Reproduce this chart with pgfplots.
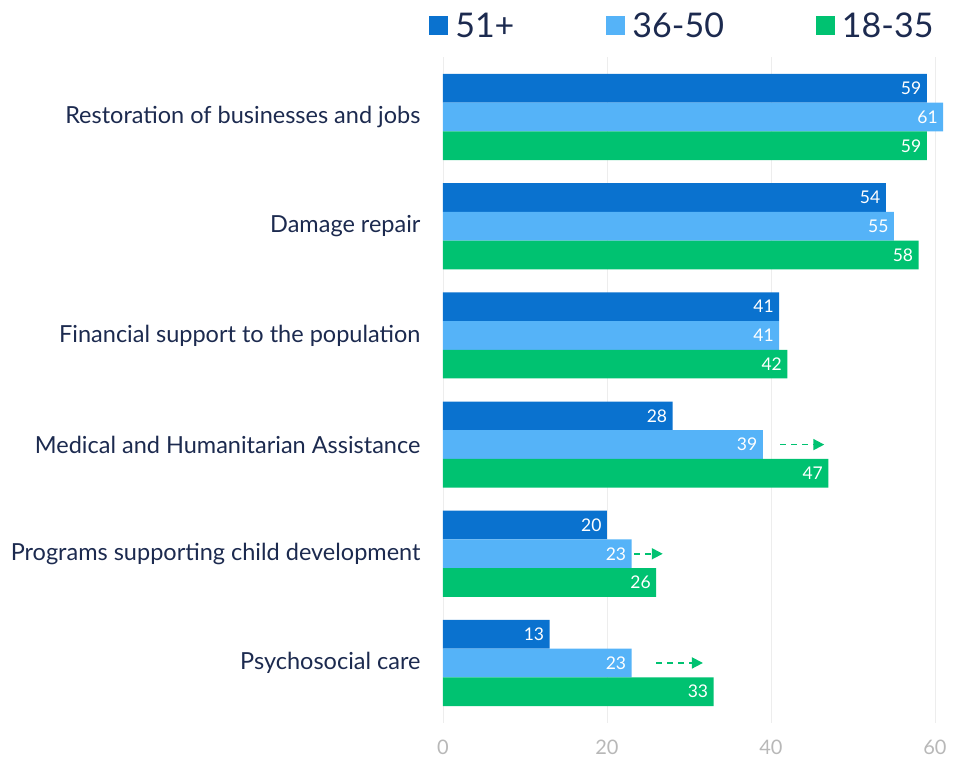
\documentclass[border=0pt]{standalone}
\usepackage{fontspec}
\setmainfont{Lato}
\usepackage{pgfplots}
\pgfplotsset{compat=1.18}
\usetikzlibrary{arrows.meta}
\definecolor{cDark}{HTML}{0A72CF}
\definecolor{cLight}{HTML}{55B3F8}
\definecolor{cGreen}{HTML}{00C271}
\definecolor{navy}{HTML}{1C2A4F}
\definecolor{tickgray}{HTML}{B8B8B8}
\definecolor{gridc}{HTML}{EDEDED}
\begin{document}
\begin{tikzpicture}
\begin{axis}[
  name=ax, scale only axis, width=508.4pt, height=666pt,
  xmin=0, xmax=62, ymin=-0.55, ymax=5.55, y dir=reverse,
  axis line style={draw=none}, major tick length=0pt,
  xtick={0,20,40,60}, xmajorgrids, grid style={gridc, line width=0.8pt},
  ytick={0,1,2,3,4,5},
  yticklabels={Restoration of businesses and jobs, Damage repair, Financial support to the population, Medical and Humanitarian Assistance, Programs supporting child development, Psychosocial care},
  yticklabel style={font=\fontsize{23.5}{27}\selectfont, text=navy, xshift=-19pt},
  xticklabel style={font=\fontsize{20}{24}\selectfont, text=tickgray, yshift=-13pt},
  /pgf/number format/assume math mode=true,
  legend columns=3,
  legend style={draw=none, fill=none, at={(0.975,1)}, anchor=south east, yshift=14pt,
    font=\fontsize{34}{38}\selectfont, text=navy,
    /tikz/every odd column/.append style={column sep=5pt},
    /tikz/every even column/.append style={column sep=90pt}},
  legend cell align=left,
  point meta=x,
  every node near coord/.append style={anchor=east, xshift=-2pt, text=white, font=\fontsize{17.5}{20}\selectfont},
]
\addplot[xbar, bar width=28.7pt, bar shift=0pt, fill=cDark, draw=none, nodes near coords,
  legend image code/.code={\fill[cDark] (0pt,-9.5pt) rectangle (19pt,9.5pt);}]
  coordinates {(59,-0.263) (54,0.737) (41,1.737) (28,2.737) (20,3.737) (13,4.737)};
\addlegendentry{51+}
\addplot[xbar, bar width=28.7pt, bar shift=0pt, fill=cLight, draw=none, nodes near coords,
  legend image code/.code={\fill[cLight] (0pt,-9.5pt) rectangle (19pt,9.5pt);}]
  coordinates {(61,0) (55,1) (41,2) (39,3) (23,4) (23,5)};
\addlegendentry{36-50}
\addplot[xbar, bar width=28.7pt, bar shift=0pt, fill=cGreen, draw=none, nodes near coords,
  legend image code/.code={\fill[cGreen] (0pt,-9.5pt) rectangle (19pt,9.5pt);}]
  coordinates {(59,0.263) (58,1.263) (42,2.263) (47,3.263) (26,4.263) (33,5.263)};
\addlegendentry{18-35}
\addplot[forget plot, cGreen, line width=1.8pt, dash pattern=on 6pt off 5pt, -{Triangle[length=11pt,width=11pt]}]
  coordinates {(41.1,3) (46.5,3)};
\addplot[forget plot, cGreen, line width=1.8pt, dash pattern=on 6pt off 5pt, -{Triangle[length=11pt,width=11pt]}]
  coordinates {(23.3,4) (26.8,4)};
\addplot[forget plot, cGreen, line width=1.8pt, dash pattern=on 6pt off 5pt, -{Triangle[length=11pt,width=11pt]}]
  coordinates {(26.0,5) (31.7,5)};
\end{axis}
\pgfresetboundingbox
\path (ax.south west) ++(-443pt,-37pt) rectangle ++(953pt,760pt);
\end{tikzpicture}
\end{document}
